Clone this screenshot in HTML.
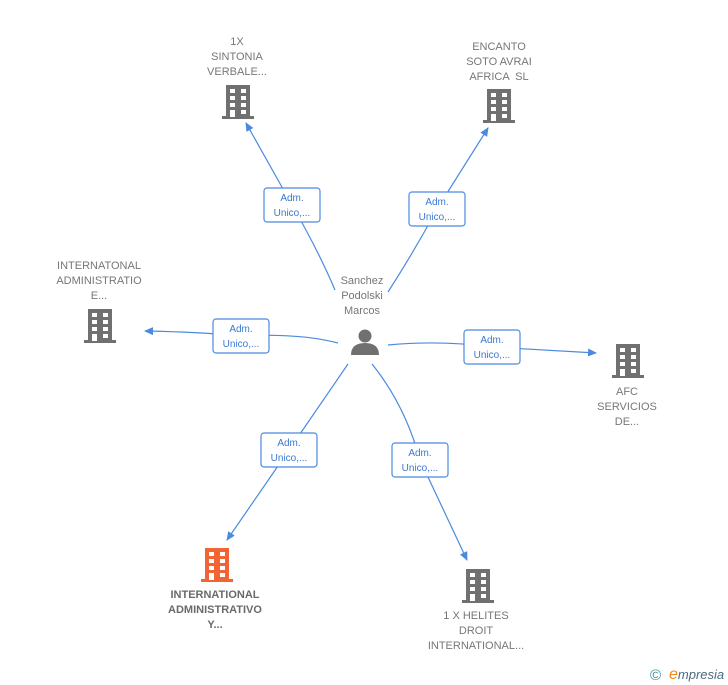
<!DOCTYPE html>
<html><head><meta charset="utf-8"><style>
html,body{margin:0;padding:0;background:#fff;}
svg{display:block;font-family:"Liberation Sans",sans-serif;}
.l{font-size:11px;fill:#777;text-anchor:middle;}
.b{font-weight:bold;fill:#6a6a6a;}
.e{fill:none;stroke:#4a8ae0;stroke-width:1.2;}
.bx{fill:#fff;stroke:#4a8ae0;stroke-width:1.2;}
.bt{font-size:10px;fill:#3a78d0;text-anchor:middle;}
</style></head><body>
<svg width="728" height="685" viewBox="0 0 728 685">
<defs>
<g id="bld">
<rect x="-12" y="-17" width="24" height="32"/>
<rect x="-16" y="14" width="32" height="3"/>
<g fill="#fff">
<rect x="-8" y="-13" width="5" height="4"/><rect x="3" y="-13" width="5" height="4"/>
<rect x="-8" y="-6" width="5" height="4"/><rect x="3" y="-6" width="5" height="4"/>
<rect x="-8" y="1" width="5" height="4"/><rect x="3" y="1" width="5" height="4"/>
<rect x="-8" y="8" width="5" height="7"/><rect x="3" y="8" width="5" height="4"/>
</g></g>
<marker id="ar" markerWidth="10" markerHeight="10" refX="8" refY="5" orient="auto" markerUnits="userSpaceOnUse"><path d="M0,1 L9,5 L0,9 Z" fill="#4a8ae0"/></marker>
</defs>
<path class="e" d="M335,290 Q318,250 292,205 L246,123" marker-end="url(#ar)"/>
<path class="e" d="M388,292 Q415,250 437,209 L488,128" marker-end="url(#ar)"/>
<path class="e" d="M338,343 Q300,333 241,336 Q200,332 145,331" marker-end="url(#ar)"/>
<path class="e" d="M388,345 Q440,340 492,347 L596,353" marker-end="url(#ar)"/>
<path class="e" d="M348,364 L289,450 L227,540" marker-end="url(#ar)"/>
<path class="e" d="M372,364 Q405,405 420,460 L467,560" marker-end="url(#ar)"/>

<rect class="bx" x="264" y="188" width="56" height="34" rx="3"/><text class="bt" x="292" y="201">Adm.</text><text class="bt" x="292" y="216">Unico,...</text>
<rect class="bx" x="409" y="192" width="56" height="34" rx="3"/><text class="bt" x="437" y="205">Adm.</text><text class="bt" x="437" y="220">Unico,...</text>
<rect class="bx" x="213" y="319" width="56" height="34" rx="3"/><text class="bt" x="241" y="332">Adm.</text><text class="bt" x="241" y="347">Unico,...</text>
<rect class="bx" x="464" y="330" width="56" height="34" rx="3"/><text class="bt" x="492" y="343">Adm.</text><text class="bt" x="492" y="358">Unico,...</text>
<rect class="bx" x="261" y="433" width="56" height="34" rx="3"/><text class="bt" x="289" y="446">Adm.</text><text class="bt" x="289" y="461">Unico,...</text>
<rect class="bx" x="392" y="443" width="56" height="34" rx="3"/><text class="bt" x="420" y="456">Adm.</text><text class="bt" x="420" y="471">Unico,...</text>

<text class="l" x="362" y="284">Sanchez</text><text class="l" x="362" y="299">Podolski</text><text class="l" x="362" y="314">Marcos</text>
<g fill="#707070"><circle cx="365" cy="336" r="6.5"/><path d="M351,355 Q351,343 365,343 Q379,343 379,355 Z"/></g>

<text class="l" x="237" y="45">1X</text><text class="l" x="237" y="60">SINTONIA</text><text class="l" x="237" y="75">VERBALE...</text>
<use href="#bld" x="238" y="102" fill="#707070"/>
<text class="l" x="499" y="50">ENCANTO</text><text class="l" x="499" y="65">SOTO AVRAI</text><text class="l" x="499" y="80">AFRICA &#160;SL</text>
<use href="#bld" x="499" y="106" fill="#707070"/>
<text class="l" x="99" y="269">INTERNATONAL</text><text class="l" x="99" y="284">ADMINISTRATIO</text><text class="l" x="99" y="299">E...</text>
<use href="#bld" x="100" y="326" fill="#707070"/>
<use href="#bld" x="628" y="361" fill="#707070"/>
<text class="l" x="627" y="395">AFC</text><text class="l" x="627" y="410">SERVICIOS</text><text class="l" x="627" y="425">DE...</text>
<use href="#bld" x="217" y="565" fill="#f26434"/>
<text class="l b" x="215" y="598">INTERNATIONAL</text><text class="l b" x="215" y="613">ADMINISTRATIVO</text><text class="l b" x="215" y="628">Y...</text>
<use href="#bld" x="478" y="586" fill="#707070"/>
<text class="l" x="476" y="619">1 X HELITES</text><text class="l" x="476" y="634">DROIT</text><text class="l" x="476" y="649">INTERNATIONAL...</text>

<text x="650" y="680" font-size="15" fill="#3a8aa0">©</text>
<text x="669" y="679" font-size="13" fill="#4a6a80" font-style="italic"><tspan fill="#f28a1a" font-size="16">e</tspan>mpresia</text>
</svg>
</body></html>
